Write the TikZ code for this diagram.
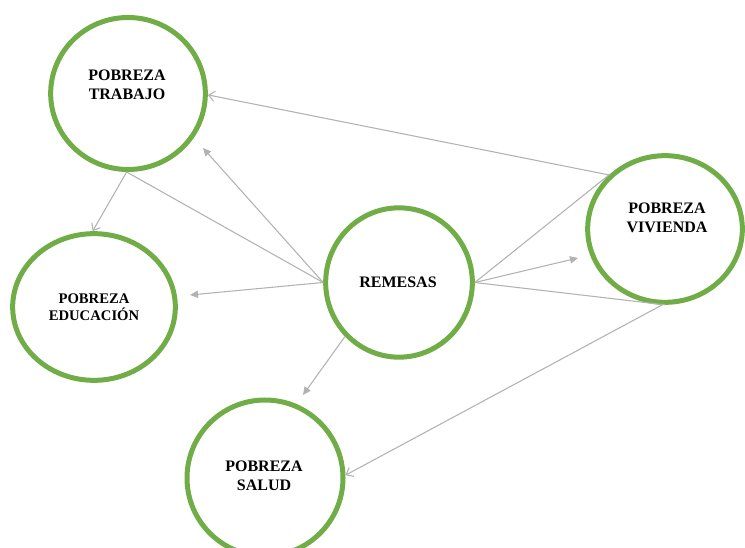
\documentclass[tikz,border=0pt]{standalone}
\usepackage{fontspec}
\setmainfont{Liberation Serif}
\usetikzlibrary{arrows.meta,shapes.geometric}
\definecolor{ringgreen}{RGB}{112,173,71}
\definecolor{linkgray}{RGB}{178,178,178}
\begin{document}
\begin{tikzpicture}[x=0.75pt,y=-0.75pt,
  ring/.style={ellipse,draw=ringgreen,line width=3.75pt,inner sep=0pt},
  lbl/.style={font=\bfseries\fontsize{12}{14.6}\selectfont,align=center,inner sep=0pt},
  smalllbl/.style={font=\bfseries\fontsize{11}{12.8}\selectfont,align=center,inner sep=0pt},
  link/.style={draw=linkgray,line width=0.8pt},
  filledtip/.style={link,-{Triangle[length=6pt,width=5.5pt]}},
  opentip/.style={link,-{Straight Barb[length=4.5pt,width=7.5pt]}}]
\useasboundingbox (0,0) rectangle (745,548);
\clip (0,0) rectangle (745,548);

% circles
\node[ring,minimum width=116pt,minimum height=114pt] (trab) at (128,93.5) {};
\node[ring,minimum width=122pt,minimum height=110pt] (edu) at (94,307) {};
\node[ring,minimum width=110pt,minimum height=112pt] (rem) at (399,282.5) {};
\node[ring,minimum width=116pt,minimum height=110pt] (viv) at (665,229) {};
\node[ring,minimum width=117pt,minimum height=117pt] (sal) at (265,478) {};

% labels
\node[lbl] (trabT) at (127,85) {POBREZA\\TRABAJO};
\node[smalllbl] (eduT) at (94,307) {POBREZA\\EDUCACIÓN};
\node[lbl] (remT) at (398,282) {REMESAS};
\node[lbl] (vivT) at (667,218) {POBREZA\\VIVIENDA};
\node[lbl] (salT) at (264,476) {POBREZA\\SALUD};

% free arrow ends
\coordinate (toTrab) at (203,148);
\coordinate (toEdu) at (190,295);
\coordinate (toSal) at (303,395);
\coordinate (toViv) at (578,258);

% connectors
\draw[opentip] (viv.136) -- (trab.-1);
\draw[opentip] (trab.-91) -- (edu.91);
\draw[link] (trab.-91) -- (rem.180);
\draw[filledtip] (rem.180) -- (toTrab);
\draw[filledtip] (rem.180) -- (toEdu);
\draw[filledtip] (rem.-135) -- (toSal);
\draw[filledtip] (rem.0) -- (toViv);
\draw[link] (rem.0) -- (viv.135);
\draw[link] (rem.0) -- (viv.-90);
\draw[opentip] (viv.-92) -- (sal.2);
\end{tikzpicture}
\end{document}
